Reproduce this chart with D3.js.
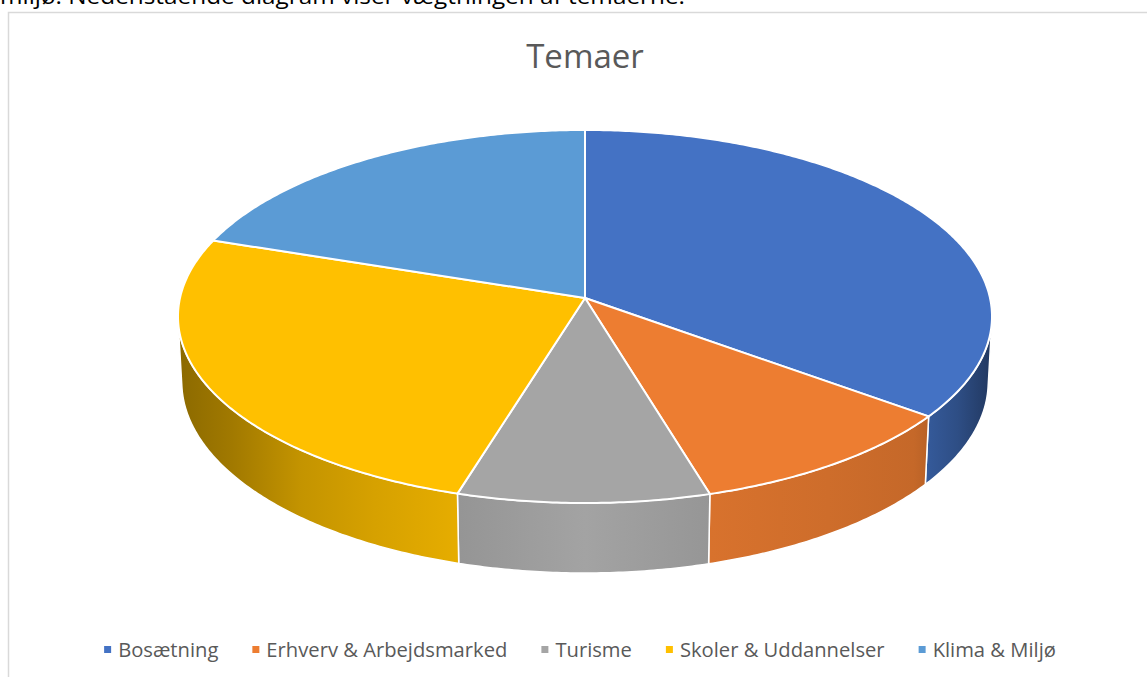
<!DOCTYPE html>
<html>
<head>
<meta charset="utf-8">
<script src="https://cdn.jsdelivr.net/npm/d3@7"></script>
<style>
  body { margin: 0; background: #fff; overflow: hidden; }
  svg { display: block; }
</style>
</head>
<body>
<div id="chart"></div>
<script>
// Data
const categories = ["Bosætning", "Erhverv & Arbejdsmarked", "Turisme", "Skoler & Uddannelser", "Klima & Miljø"];
const values = [35.3, 10.2, 9.1, 25.6, 19.8];
const colors = ["#4472C4", "#ED7D31", "#A5A5A5", "#FFC000", "#5B9BD5"];
const title = "Temaer";
const introText = "miljø. Nedenstående diagram viser vægtningen af temaerne.";

const width = 1147;
const height = 677;

const svg = d3.select("#chart")
    .append("svg")
    .attr("width", width)
    .attr("height", height);

// text line of the document, cut at the top
svg.append("text")
    .attr("x", 0)
    .attr("y", 4)
    .attr("font-family", "Open Sans, sans-serif")
    .attr("font-size", 21)
    .attr("fill", "#000")
    .attr("textLength", 685)
    .attr("lengthAdjust", "spacingAndGlyphs")
    .text(introText);

// chart area border
svg.append("rect")
    .attr("x", 8.5)
    .attr("y", 12.5)
    .attr("width", 1160)
    .attr("height", 700)
    .attr("fill", "#fff")
    .attr("stroke", "#d9d9d9")
    .attr("stroke-width", 1.5);

svg.append("text")
    .attr("x", 585)
    .attr("y", 68)
    .attr("text-anchor", "middle")
    .attr("font-family", "Open Sans, sans-serif")
    .attr("font-size", 33)
    .attr("fill", "#595959")
    .text(title);

// 3D projection of the pie (perspective)
const cx = 585, cy = 298;
const sinP = 0.456, cosP = Math.sqrt(1 - sinP * sinP);
const D = 8.98;
const f = 3637;
const depth = 0.182;

function project(X, Y, Z) {
    const u = Y * cosP - Z * sinP;
    const w = Y * sinP + Z * cosP;
    const s = f / (D - w);
    return [cx + X * s, cy - u * s];
}
function rim(theta, y) {
    return project(Math.sin(theta), y, -Math.cos(theta));
}

const pie = d3.pie().sort(null).startAngle(0).endAngle(2 * Math.PI);
const arcs = pie(values);

const defs = svg.append("defs");
const xl = rim(3 * Math.PI / 2, 0)[0];
const xr = rim(Math.PI / 2, 0)[0];
const shade = [[0, 0.55], [0.064, 0.63], [0.15, 0.77], [0.24, 0.84], [0.345, 0.9], [0.5, 0.99],
               [0.654, 0.91], [0.8, 0.87], [0.906, 0.83], [0.96, 0.68], [1, 0.5]];

colors.forEach((c, i) => {
    const g = defs.append("linearGradient")
        .attr("id", "side" + i)
        .attr("gradientUnits", "userSpaceOnUse")
        .attr("x1", xl).attr("x2", xr)
        .attr("y1", 0).attr("y2", 0);
    shade.forEach(([o, k]) => {
        const col = d3.rgb(c);
        g.append("stop")
            .attr("offset", o)
            .attr("stop-color", d3.rgb(col.r * k, col.g * k, col.b * k).formatHex());
    });
});

const line = d3.line();
const thMin = Math.acos(-1 / (D * cosP));
const thMax = 2 * Math.PI - thMin;

function sample(a, b, y) {
    const n = Math.max(2, Math.ceil((b - a) / 0.01));
    return d3.range(n + 1).map(k => rim(a + (b - a) * k / n, y));
}

// sides
const sides = svg.append("g");
arcs.forEach((d, i) => {
    const a = Math.max(d.startAngle, thMin);
    const b = Math.min(d.endAngle, thMax);
    if (a >= b) return;
    const pts = sample(a, b, 0).concat(sample(a, b, -depth).reverse());
    sides.append("path")
        .attr("d", line(pts) + "Z")
        .attr("fill", `url(#side${i})`)
        .attr("stroke", "#fff")
        .attr("stroke-width", 1.5)
        .attr("stroke-linejoin", "round");
});

// top faces
const tops = svg.append("g");
const centre = project(0, 0, 0);
arcs.forEach((d, i) => {
    const pts = [centre].concat(sample(d.startAngle, d.endAngle, 0));
    tops.append("path")
        .attr("d", line(pts) + "Z")
        .attr("fill", colors[i])
        .attr("stroke", "#fff")
        .attr("stroke-width", 2)
        .attr("stroke-linejoin", "round");
});

// legend
const legend = svg.append("g");
let lx = 0;
categories.forEach((name, i) => {
    const it = legend.append("g");
    it.append("rect")
        .attr("x", 0).attr("y", -4)
        .attr("width", 7).attr("height", 7)
        .attr("fill", colors[i]);
    const t = it.append("text")
        .attr("x", 14)
        .attr("y", 7)
        .attr("font-family", "Open Sans, sans-serif")
        .attr("font-size", 20.2)
        .attr("fill", "#595959")
        .text(name);
    const w = 14 + t.node().getComputedTextLength();
    it.attr("transform", `translate(${lx},0)`);
    lx += w + 34;
});
const total = lx - 34;
legend.attr("transform", `translate(${580 - total / 2},650)`);
</script>
</body>
</html>
